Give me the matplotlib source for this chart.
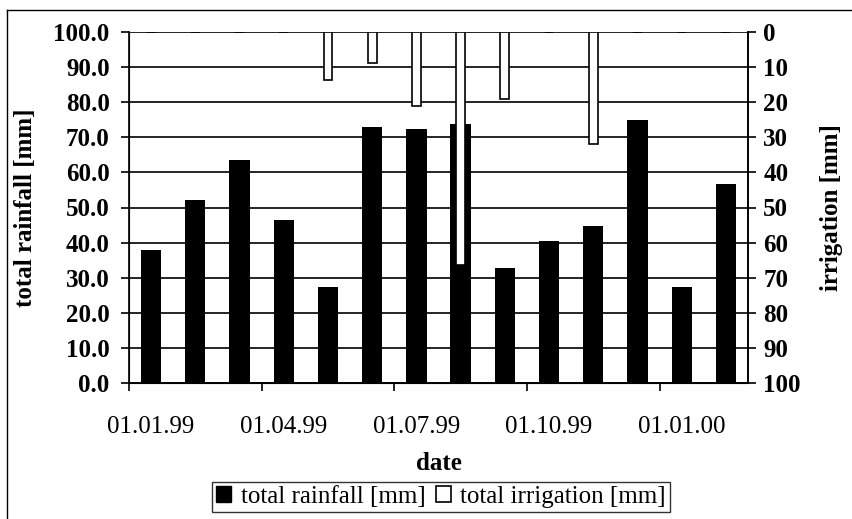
import matplotlib
matplotlib.use("Agg")
import matplotlib.pyplot as plt
from matplotlib.patches import Patch
from matplotlib.lines import Line2D

plt.rcParams['font.family'] = 'Liberation Serif'
plt.rcParams['font.size'] = 18

# monthly totals, Jan 1999 .. Feb 2000
months = ['Jan 99', 'Feb 99', 'Mar 99', 'Apr 99', 'May 99', 'Jun 99', 'Jul 99',
          'Aug 99', 'Sep 99', 'Oct 99', 'Nov 99', 'Dec 99', 'Jan 00', 'Feb 00']
rainfall = [37.8, 52.0, 63.5, 46.5, 27.4, 72.8, 72.4, 73.8, 32.8, 40.5, 44.8, 74.9, 27.3, 56.6]
irrigation = [0, 0, 0, 0, 13.7, 8.9, 21.0, 66.4, 19.1, 0, 31.8, 0, 0, 0]

date_ticks = [0, 3, 6, 9, 12]
date_labels = ['01.01.99', '01.04.99', '01.07.99', '01.10.99', '01.01.00']

fig = plt.figure(figsize=(8.53, 5.19), dpi=100)
fig.subplots_adjust(left=129/853, right=748/853, top=1-32/519, bottom=1-383/519)
ax = fig.add_subplot(111)

x = [i + 0.5 for i in range(len(months))]

ax.bar(x, rainfall, width=0.46, color='black', zorder=2)
ax.set_xlim(0, len(months))
ax.set_ylim(0, 100)
ax.set_yticks(range(0, 101, 10))
ax.set_yticklabels(['%.1f' % v for v in range(0, 101, 10)], fontweight='bold')
ax.yaxis.grid(True, color='black', linewidth=1.2)
ax.set_axisbelow(True)

# tick marks at the month boundary, label centred on the month
ax.set_xticks(date_ticks)
ax.set_xticklabels([''] * len(date_ticks))
ax.set_xticks([t + 0.5 for t in date_ticks], minor=True)
ax.set_xticklabels(date_labels, minor=True)
ax.tick_params(axis='x', which='minor', length=0, pad=24)
ax.tick_params(axis='x', which='major', direction='out', length=6, width=1.2)
ax.tick_params(axis='y', direction='out', length=6, width=1.2, pad=8)
ax.spines['top'].set_visible(False)
for s in ['left', 'bottom', 'right']:
    ax.spines[s].set_linewidth(1.2)
ax.set_ylabel('total rainfall [mm]', fontweight='bold', labelpad=12)
ax.set_xlabel('date', fontweight='bold', labelpad=10)

# irrigation on a reversed right axis, hanging from the top
ax2 = ax.twinx()
ax2.bar(x, irrigation, width=0.2, color='white', edgecolor='black', linewidth=1.2, zorder=3)
ax2.set_ylim(100, 0)
ax2.set_yticks(range(0, 101, 10))
ax2.set_yticklabels([str(v) for v in range(0, 101, 10)], fontweight='bold')
ax2.tick_params(axis='y', direction='out', length=6, width=1.2, pad=5)
ax2.spines['top'].set_visible(False)
ax2.spines['right'].set_linewidth(1.2)
ax2.set_ylabel('irrigation [mm]', fontweight='bold', labelpad=14)

handles = [Patch(facecolor='black', edgecolor='black'),
           Patch(facecolor='white', edgecolor='black', linewidth=1.2)]
leg = fig.legend(handles, ['total rainfall [mm]', 'total irrigation [mm]'], ncol=2,
                 loc='upper left', bbox_to_anchor=(212/853, 1-482/519),
                 bbox_transform=fig.transFigure, borderaxespad=0,
                 frameon=True, fancybox=False, edgecolor='black',
                 handlelength=0.6, handleheight=0.6, handletextpad=0.4,
                 columnspacing=0.4, borderpad=0.15)
leg.get_frame().set_linewidth(1.0)

# outer chart border
fig.add_artist(Line2D([7.5/853, 7.5/853], [0, 1-10/519], color='black', linewidth=1.0,
                      transform=fig.transFigure))
fig.add_artist(Line2D([7.5/853, 1], [1-10/519, 1-10/519], color='black', linewidth=1.0,
                      transform=fig.transFigure))

fig.savefig('out.png', dpi=100)
